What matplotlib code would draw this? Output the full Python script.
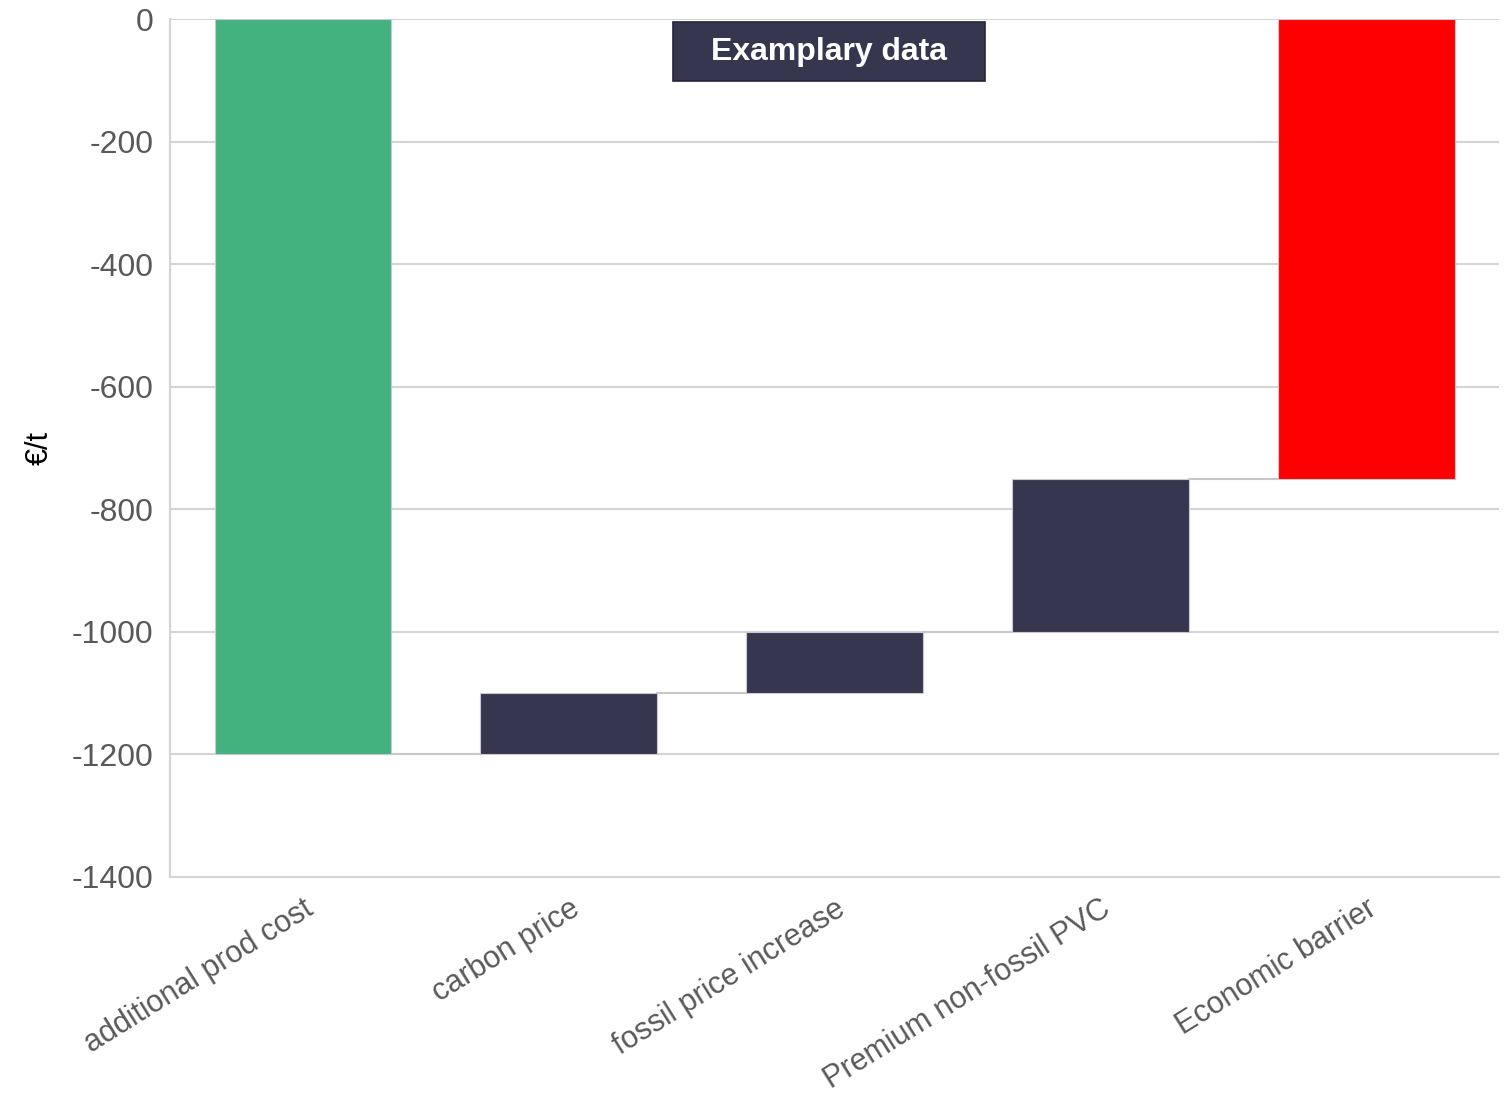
import numpy as np
import matplotlib.pyplot as plt
from matplotlib.patches import Rectangle

categories = ['additional prod cost', 'carbon price', 'fossil price increase',
              'Premium non-fossil PVC', 'Economic barrier']
changes = [-1200, 100, 100, 250, 750]
colors = ['#43b27f', '#36364f', '#36364f', '#36364f', '#ff0000']
yticks = [0, -200, -400, -600, -800, -1000, -1200, -1400]

plt.rcParams['font.family'] = ['Liberation Sans', 'DejaVu Sans']

ends = np.cumsum(changes)
starts = ends - np.array(changes)
x = np.arange(len(categories))
width = 0.665

fig = plt.figure(figsize=(15.09, 10.94), dpi=100)
ax = fig.add_axes([0.1127, 0.1984, 0.8807, 0.7842])

for y in yticks:
    ax.axhline(y, color='#d4d4d4', lw=1.5, zorder=0)

ax.bar(x, changes, bottom=starts, width=width, color=colors,
       edgecolor='#c8c8d0', linewidth=0.8, zorder=2)

# connector lines between consecutive bars
for i in range(len(x) - 1):
    ax.plot([x[i] + width / 2, x[i + 1] - width / 2], [ends[i], ends[i]],
            color='#c8c8c8', lw=1.5, zorder=1)

ax.set_xlim(-0.5, 4.5)
ax.set_ylim(-1400, 0)
ax.set_yticks(yticks)
ax.set_yticklabels([str(v) for v in yticks], fontsize=23, color='#595959')
ax.set_xticks(x)
ax.set_xticklabels(categories, rotation=32, ha='right', rotation_mode='anchor',
                   fontsize=22, color='#595959')
ax.tick_params(axis='both', length=0)
ax.tick_params(axis='y', pad=12)
ax.tick_params(axis='x', pad=12)

for s in ['top', 'right']:
    ax.spines[s].set_visible(False)
for s in ['left', 'bottom']:
    ax.spines[s].set_color('#d4d4d4')
    ax.spines[s].set_linewidth(1.5)

ax.set_ylabel('€/t', fontsize=22, color='black', labelpad=12)

# "Examplary data" badge
ax.add_patch(Rectangle((1.393, -101), 1.173, 96, facecolor='#36364f',
                       edgecolor='#25253a', linewidth=1.2, zorder=5,
                       clip_on=False))
ax.text(1.98, -53, 'Examplary data', ha='center', va='center', fontsize=23,
        fontweight='bold', color='white', zorder=6)

fig.savefig('out.png', dpi=100, facecolor='white')
